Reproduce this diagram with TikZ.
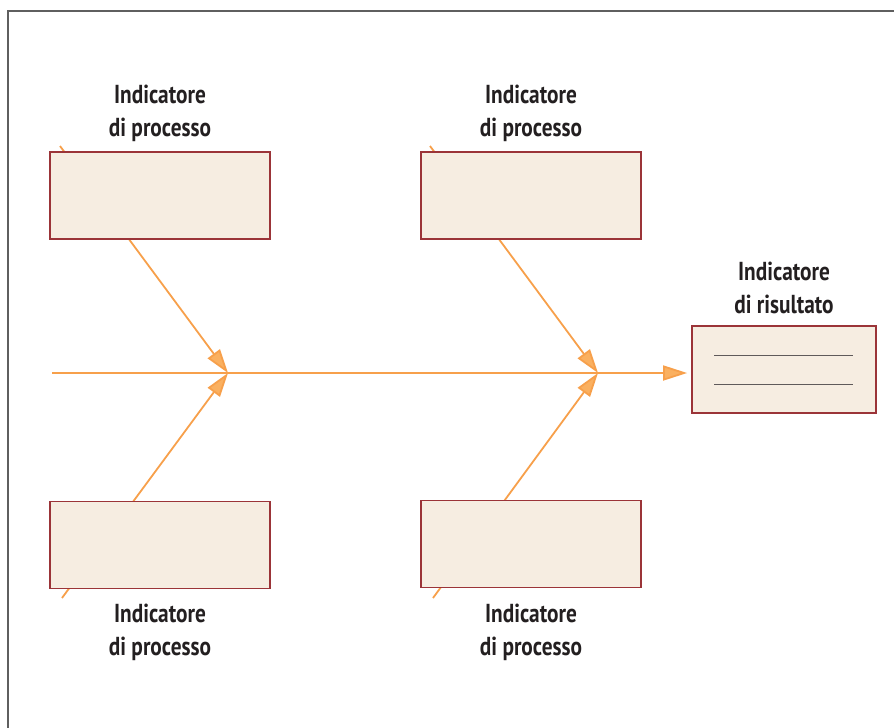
\documentclass[tikz,border=0pt]{standalone}
\usepackage{fontspec}
\setmainfont{PT Sans}[FakeStretch=0.82]
\usetikzlibrary{arrows.meta}

\definecolor{linkorange}{RGB}{247,160,75}
\definecolor{tiporange}{RGB}{250,176,96}
\definecolor{boxfill}{RGB}{246,237,225}
\definecolor{boxedge}{RGB}{155,52,56}
\definecolor{labeltext}{RGB}{35,31,32}
\definecolor{framegray}{RGB}{95,95,95}
\definecolor{rulegray}{RGB}{95,90,90}

\tikzset{
  x=1pt, y=-1pt,
  link/.style={draw=linkorange, line width=1.8pt,
    -{Triangle[length=24pt,width=15pt,fill=tiporange]}},
  bone/.style={draw=linkorange, line width=1.8pt},
  procbox/.style={draw=boxedge, fill=boxfill, line width=1.8pt,
    minimum width=220pt, minimum height=87pt, inner sep=0pt},
  resbox/.style={draw=boxedge, fill=boxfill, line width=1.8pt,
    minimum width=184pt, minimum height=87pt, inner sep=0pt},
  caption/.style={text=labeltext, align=center,
    font=\fontsize{26}{33}\selectfont\bfseries, inner sep=0pt},
}

\begin{document}
\begin{tikzpicture}
\useasboundingbox (0,0) rectangle (894,728);

% outer frame (left and top edges)
\draw[framegray, line width=1.5pt] (8,728) -- (8,11) -- (894,11);

% junction points on the spine
\coordinate (j1) at (228,373);
\coordinate (j2) at (598,373);
\coordinate (spine) at (52,373);

% free ends of the ribs, hidden under the boxes
\coordinate (r1) at (60,146);
\coordinate (r2) at (430,146);
\coordinate (r3) at (62,598);
\coordinate (r4) at (433,598);

% ribs
\draw[link] (r1) -- (j1);
\draw[link] (r3) -- (j1);
\draw[link] (r2) -- (j2);
\draw[link] (r4) -- (j2);

% boxes
\node[procbox] (b1) at (160,195.5) {};
\node[procbox] (b2) at (531,195.5) {};
\node[procbox] (b3) at (160,545) {};
\node[procbox] (b4) at (531,544) {};
\node[resbox] (res) at (784,369.5) {};

% spine
\coordinate (tipend) at ([xshift=-4pt]j2 -| res.west);
\draw[bone] (spine) -- (j1) -- (j2);
\draw[link] (j2) -- (tipend);

% ruled lines inside the result box
\draw[rulegray, line width=1pt] (714,355) -- (853,355);
\draw[rulegray, line width=1pt] (714,384) -- (853,384);

% captions
\node[caption, anchor=south] (c1) at (160,142) {Indicatore\\di processo};
\node[caption, anchor=south] (c2) at (531,142) {Indicatore\\di processo};
\node[caption, anchor=south] (c5) at (784,314) {Indicatore\\di risultato};
\node[caption, anchor=north] (c3) at (160,604) {Indicatore\\di processo};
\node[caption, anchor=north] (c4) at (531,604) {Indicatore\\di processo};
\end{tikzpicture}
\end{document}
